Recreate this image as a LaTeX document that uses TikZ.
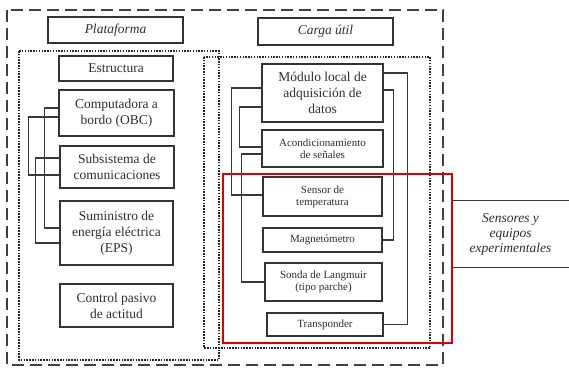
\documentclass[tikz,border=0pt]{standalone}
\usepackage{fontspec}
\setmainfont{Liberation Serif}
\begin{document}
\begin{tikzpicture}[x=1bp,y=-1bp,
  box/.style={draw=black!80, line width=1.5bp, inner sep=1bp, align=center,
    text=black!82, font=\fontsize{13.5bp}{16bp}\selectfont},
  smallbox/.style={box, font=\fontsize{11bp}{12bp}\selectfont},
  titlebox/.style={box, font=\fontsize{13.5bp}{16bp}\selectfont\itshape},
  link/.style={draw=black!78, line width=1.3bp},
  outerframe/.style={draw=black!75, line width=1.6bp, dash pattern=on 12bp off 6bp},
  groupframe/.style={draw=black!85, line width=1.8bp, dash pattern=on 1.5bp off 1.3bp},
  redframe/.style={draw=red!85!black, line width=1.9bp}]
\useasboundingbox (0,0) rectangle (569,367);

% frames
\draw[outerframe] (7,10) rectangle (443,365);
\draw[groupframe] (19,51) rectangle (219,360);
\draw[groupframe] (204,57) rectangle (430,348);

% platform column
\node[titlebox, minimum width=135bp, minimum height=26bp] (plat) at (115.5,30) {Plataforma};
\node[box, minimum width=114bp, minimum height=25bp] (estr) at (116,68.5) {Estructura};
\node[box, minimum width=115bp, minimum height=46bp] (obc) at (116.5,113) {Computadora a\\bordo (OBC)};
\node[box, minimum width=114bp, minimum height=42bp] (com) at (117,167) {Subsistema de\\comunicaciones};
\node[box, minimum width=113bp, minimum height=64bp] (eps) at (116.5,233) {Suministro de\\energía eléctrica\\(EPS)};
\node[box, minimum width=113bp, minimum height=43bp] (ctrl) at (116.5,305.5) {Control pasivo\\de actitud};

% payload column
\node[titlebox, minimum width=135bp, minimum height=27bp] (carga) at (325.5,31.5) {Carga útil};
\node[box, minimum width=121bp, minimum height=58bp] (mod) at (322.5,93) {Módulo local de\\adquisición de\\datos};
\node[smallbox, minimum width=121bp, minimum height=37bp] (acon) at (322.5,148.5) {Acondicionamiento\\de señales};
\node[smallbox, minimum width=119bp, minimum height=39bp] (temp) at (322.5,196.5) {Sensor de\\temperatura};
\node[smallbox, minimum width=119bp, minimum height=24bp] (mag) at (322.5,240) {Magnetómetro};
\node[smallbox, minimum width=117bp, minimum height=38bp] (sonda) at (323.5,282) {Sonda de Langmuir\\(tipo parche)};
\node[smallbox, minimum width=116bp, minimum height=23bp] (trans) at (325,324.5) {Transponder};

% platform links
\draw[link] ([yshift=5bp]obc.west) -- ++(-14,0) |- ([yshift=5bp]eps.west);
\draw[link] ([yshift=-4bp]obc.west) -- ++(-30,0) |- ([yshift=-8bp]com.west);
\draw[link] ([yshift=9bp]com.west) -- ++(-24,0) |- ([yshift=-10bp]eps.west);

% payload links
\draw[link] ([yshift=5bp]mod.west) -- ++(-30,0) |- ([yshift=1.5bp]temp.west);
\draw[link] ([yshift=-14bp]mod.west) -- ++(-22,0) |- ([yshift=1.5bp]acon.west);
\draw[link] ([yshift=-5.5bp]acon.west) -- ++(-20,0) |- (sonda.west);
\draw[link] ([yshift=20bp]mod.east) -- ++(24,0) |- (trans.east);
\draw[link] ([yshift=3bp]mod.east) -- ++(10,0) |- (mag.east);

% experimental sensors group
\draw[redframe] (223,174) rectangle (452,343);
\node[align=center, text=black!82, inner sep=0pt,
  font=\fontsize{13.5bp}{15bp}\selectfont\itshape,
  minimum width=117bp, minimum height=66bp] (sens) at (510.5,234)
  {Sensores y\\equipos\\experimentales};
\draw[link] (sens.north west) -- (sens.north east);
\draw[link] (sens.south west) -- (sens.south east);
\end{tikzpicture}
\end{document}
